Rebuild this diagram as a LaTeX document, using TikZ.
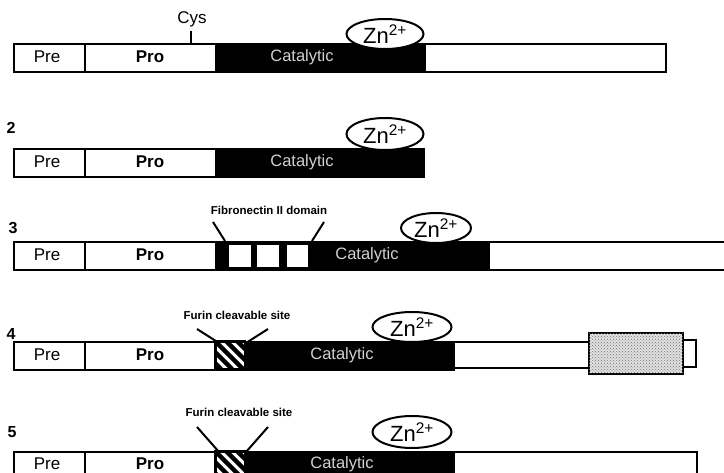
\documentclass[tikz,border=0pt]{standalone}
\usepackage{fontspec}
\setmainfont{Liberation Sans}
\usetikzlibrary{shapes.geometric,patterns}
\newcommand{\fsz}[1]{\fontsize{#1}{#1}\selectfont}
\begin{document}
\begin{tikzpicture}[x=1pt,y=-1pt,
  seg/.style={draw, line width=2pt, inner sep=0pt, minimum height=28pt, anchor=north west, fill=white},
  catseg/.style={seg, fill=black},
  lab/.style={inner sep=0pt, font=\fsz{17}},
  prolab/.style={inner sep=0pt, font=\fsz{17}\bfseries},
  catlab/.style={inner sep=0pt, text=black!18, font=\fsz{16.5}},
  zn/.style={ellipse, draw, line width=2pt, fill=white, inner sep=0pt, minimum width=77pt, minimum height=30pt, font=\fsz{22}},
  num/.style={inner sep=0pt, font=\fsz{16}\bfseries},
  note/.style={inner sep=0pt, font=\fsz{11.5}\bfseries},
  conn/.style={line width=2pt},
  boxw/.style={draw, line width=2pt, fill=white, inner sep=0pt, anchor=north west, minimum height=24pt}
]
\useasboundingbox (0,0) rectangle (724,473);
\clip (0,0) rectangle (724,473);

% ---------- Row 1 ----------
\node[seg, minimum width=71pt] (pre1) at (13,43) {};
\node[seg, minimum width=131pt] (pro1) at (84,43) {};
\node[catseg, minimum width=209pt] (cat1) at (215,43) {};
\node[seg, minimum width=241pt] (tail1) at (424,43) {};
\node[lab] (pret1) at (47,57) {Pre};
\node[prolab] (prot1) at (150,57) {Pro};
\node[catlab] (catt1) at (302,57) {Catalytic};
\node[zn] (zn1) at (385,34) {Zn\textsuperscript{2+}};
\node[lab] (cys) at (192,19) {Cys};
\coordinate (cysb) at (191,31);
\coordinate (cyse) at (191,43);
\draw[conn] (cysb) -- (cyse);

% ---------- Row 2 ----------
\node[num] (n2) at (11,128) {2};
\node[seg, minimum width=71pt] (pre2) at (13,148) {};
\node[seg, minimum width=131pt] (pro2) at (84,148) {};
\node[catseg, minimum width=208pt] (cat2) at (215,148) {};
\node[lab] (pret2) at (47,162) {Pre};
\node[prolab] (prot2) at (150,162) {Pro};
\node[catlab] (catt2) at (302,162) {Catalytic};
\node[zn, minimum height=32pt] (zn2) at (385,134) {Zn\textsuperscript{2+}};

% ---------- Row 3 ----------
\node[num] (n3) at (13,228) {3};
\node[seg, minimum width=71pt] (pre3) at (13,241) {};
\node[seg, minimum width=131pt] (pro3) at (84,241) {};
\node[catseg, minimum width=273pt] (cat3) at (215,241) {};
\node[seg, minimum width=260pt] (tail3) at (488,241) {};
\node[boxw, minimum width=24pt] (fn1) at (227,243) {};
\node[boxw, minimum width=24pt] (fn2) at (255,243) {};
\node[boxw, minimum width=23pt] (fn3) at (285,243) {};
\node[lab] (pret3) at (47,255) {Pre};
\node[prolab] (prot3) at (150,255) {Pro};
\node[catlab] (catt3) at (367,255) {Catalytic};
\node[zn, minimum width=70pt] (zn3) at (436,228) {Zn\textsuperscript{2+}};
\node[note] (fnlab) at (269,210) {Fibronectin II domain};
\coordinate (fnA) at (213,222);
\coordinate (fnAe) at (225,241);
\coordinate (fnB) at (324,222);
\coordinate (fnBe) at (312,241);
\draw[conn] (fnA) -- (fnAe);
\draw[conn] (fnB) -- (fnBe);

% ---------- Row 4 ----------
\node[num] (n4) at (11,334) {4};
\node[seg, minimum width=71pt] (pre4) at (13,341) {};
\node[seg, minimum width=131pt] (pro4) at (84,341) {};
\node[seg, minimum width=30pt] (hat4) at (215,341) {};
\begin{scope}
  \clip (215,341) rectangle (245,369);
  \foreach \i in {182,193,...,248} \draw[line width=4.5pt] (\i,341) -- ++(28,28);
\end{scope}
\draw[line width=2pt] (215,341) rectangle (245,369);
\node[catseg, minimum width=208pt] (cat4) at (245,341) {};
\node[seg, minimum width=135pt, minimum height=26pt] (tail4) at (453,341) {};
\node[seg, minimum width=13pt, minimum height=27pt] (end4) at (682,339) {};
\node[seg, minimum width=94pt, minimum height=41pt, fill=black!12,
      postaction={pattern=crosshatch dots, pattern color=black!55}] (stip4) at (588,332) {};
\node[lab] (pret4) at (47,355) {Pre};
\node[prolab] (prot4) at (150,355) {Pro};
\node[catlab] (catt4) at (342,355) {Catalytic};
\node[zn, minimum width=79pt] (zn4) at (412,327) {Zn\textsuperscript{2+}};
\node[note] (fu4) at (237,315) {Furin cleavable site};
\coordinate (fu4A) at (197,329);
\coordinate (fu4Ae) at (219,343);
\coordinate (fu4B) at (268,329);
\coordinate (fu4Be) at (246,343);
\draw[conn] (fu4A) -- (fu4Ae);
\draw[conn] (fu4B) -- (fu4Be);

% ---------- Row 5 ----------
\node[num] (n5) at (12,432) {5};
\node[seg, minimum width=71pt] (pre5) at (13,451) {};
\node[seg, minimum width=131pt] (pro5) at (84,451) {};
\node[seg, minimum width=30pt] (hat5) at (215,451) {};
\begin{scope}
  \clip (215,451) rectangle (245,479);
  \foreach \i in {182,193,...,248} \draw[line width=4.5pt] (\i,451) -- ++(28,28);
\end{scope}
\draw[line width=2pt] (215,451) rectangle (245,479);
\node[catseg, minimum width=208pt] (cat5) at (245,451) {};
\node[seg, minimum width=243pt] (tail5) at (453,451) {};
\node[lab] (pret5) at (47,464) {Pre};
\node[prolab] (prot5) at (150,464) {Pro};
\node[catlab] (catt5) at (342,464) {Catalytic};
\node[zn, minimum width=79pt, minimum height=32pt] (zn5) at (412,432) {Zn\textsuperscript{2+}};
\node[note] (fu5) at (239,412) {Furin cleavable site};
\coordinate (fu5A) at (197,427);
\coordinate (fu5Ae) at (219,452);
\coordinate (fu5B) at (268,427);
\coordinate (fu5Be) at (246,452);
\draw[conn] (fu5A) -- (fu5Ae);
\draw[conn] (fu5B) -- (fu5Be);
\end{tikzpicture}
\end{document}
